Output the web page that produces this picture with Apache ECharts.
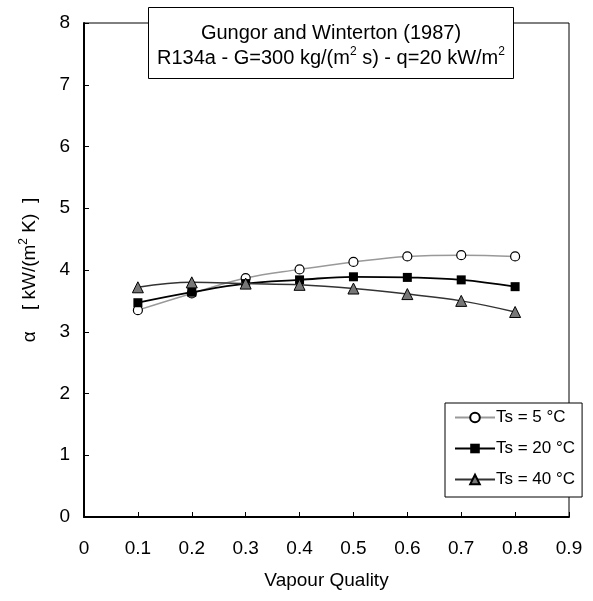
<!DOCTYPE html>
<html>
<head>
<meta charset="utf-8">
<script src="https://cdn.jsdelivr.net/npm/echarts@6/dist/echarts.min.js"></script>
<style>
html,body{margin:0;padding:0;background:#fff;}
#chart{width:593px;height:601px;}
</style>
</head>
<body>
<div id="chart"></div>
<script>
const quality = [0.1, 0.2, 0.3, 0.4, 0.5, 0.6, 0.7, 0.8];
const ts5  = [3.35, 3.62, 3.87, 4.01, 4.13, 4.22, 4.24, 4.22];
const ts20 = [3.47, 3.64, 3.78, 3.84, 3.89, 3.88, 3.84, 3.73];
const ts40 = [3.72, 3.80, 3.78, 3.76, 3.70, 3.61, 3.50, 3.32];
const seriesNames = ['Ts = 5 °C', 'Ts = 20 °C', 'Ts = 40 °C'];

const FONT = 'Liberation Sans, Arial, sans-serif';
const pairs = arr => quality.map((q, i) => [q, arr[i]]);

const chart = echarts.init(document.getElementById('chart'), null, {renderer: 'canvas'});
chart.setOption({
  animation: false,
  backgroundColor: '#fff',
  textStyle: {fontFamily: FONT},
  graphic: [
    {
      type: 'rect', z: 100,
      shape: {x: 148.5, y: 7.5, width: 365, height: 71},
      style: {fill: '#fff', stroke: '#000', lineWidth: 1}
    },
    {
      type: 'text', z: 101,
      x: 331, y: 46,
      style: {
        text: '{a|Gungor and Winterton (1987)}\n{a|R134a - G=300 kg/(m}{s|2}{a| s) - q=20 kW/m}{s|2}',
        align: 'center', verticalAlign: 'middle',
        rich: {
          a: {fontSize: 20, fontFamily: FONT, fill: '#000', color: '#000', lineHeight: 25},
          s: {fontSize: 12, fontFamily: FONT, fill: '#000', color: '#000', lineHeight: 25, verticalAlign: 'top', padding: [0, 0, 8, 0]}
        }
      }
    }
  ],
  legend: {
    left: 445,
    top: 403,
    orient: 'vertical',
    data: seriesNames,
    backgroundColor: '#fff',
    borderColor: '#000',
    borderWidth: 1,
    padding: [6, 7, 9, 9],
    itemWidth: 40,
    itemHeight: 12,
    itemGap: 14,
    textStyle: {fontSize: 17, fontFamily: FONT, color: '#000', padding: [0, 0, 0, -4]},
    z: 10
  },
  grid: {left: 84, right: 24, top: 23, bottom: 84, show: true, borderColor: '#000', borderWidth: 1, containLabel: false},
  xAxis: {
    type: 'value',
    min: 0, max: 0.9, interval: 0.1,
    name: 'Vapour Quality',
    nameLocation: 'middle',
    nameGap: 54,
    nameTextStyle: {fontSize: 19, fontFamily: FONT, color: '#000'},
    axisLine: {show: true, onZero: false, lineStyle: {color: '#000', width: 2}},
    axisTick: {show: true, inside: true, length: 5, lineStyle: {color: '#000', width: 1}},
    axisLabel: {fontSize: 19, fontFamily: FONT, color: '#000', margin: 22,
      formatter: v => Math.abs(v) < 1e-9 ? '0' : v.toFixed(1)},
    splitLine: {show: false}
  },
  yAxis: {
    type: 'value',
    min: 0, max: 8, interval: 1,
    name: '{a|α    [ kW/(m}{s|2}{a| K)  ]}',
    nameLocation: 'middle',
    nameGap: 42,
    nameTextStyle: {
      fontFamily: FONT, color: '#000',
      rich: {
        a: {fontSize: 19, fontFamily: FONT, color: '#000', lineHeight: 24},
        s: {fontSize: 12, fontFamily: FONT, color: '#000', lineHeight: 24, verticalAlign: 'top', padding: [0, 0, 7, 0]}
      }
    },
    axisLine: {show: true, onZero: false, lineStyle: {color: '#000', width: 2}},
    axisTick: {show: true, inside: true, length: 5, lineStyle: {color: '#000', width: 1}},
    axisLabel: {fontSize: 19, fontFamily: FONT, color: '#000', margin: 14},
    splitLine: {show: false}
  },
  series: [
    {
      name: seriesNames[0], type: 'line', smooth: 0.4, data: pairs(ts5),
      symbol: 'circle', symbolSize: 9,
      lineStyle: {color: '#999', width: 1.5},
      itemStyle: {color: '#fff', borderColor: '#000', borderWidth: 1.2},
      z: 3
    },
    {
      name: seriesNames[1], type: 'line', smooth: 0.4, data: pairs(ts20),
      symbol: 'rect', symbolSize: 9,
      lineStyle: {color: '#000', width: 1.8},
      itemStyle: {color: '#000', borderColor: '#000', borderWidth: 0},
      z: 4
    },
    {
      name: seriesNames[2], type: 'line', smooth: 0.4, data: pairs(ts40),
      symbol: 'triangle', symbolSize: 11,
      lineStyle: {color: '#333', width: 1.5},
      itemStyle: {color: '#777', borderColor: '#000', borderWidth: 1},
      z: 5
    }
  ]
});
</script>
</body>
</html>
